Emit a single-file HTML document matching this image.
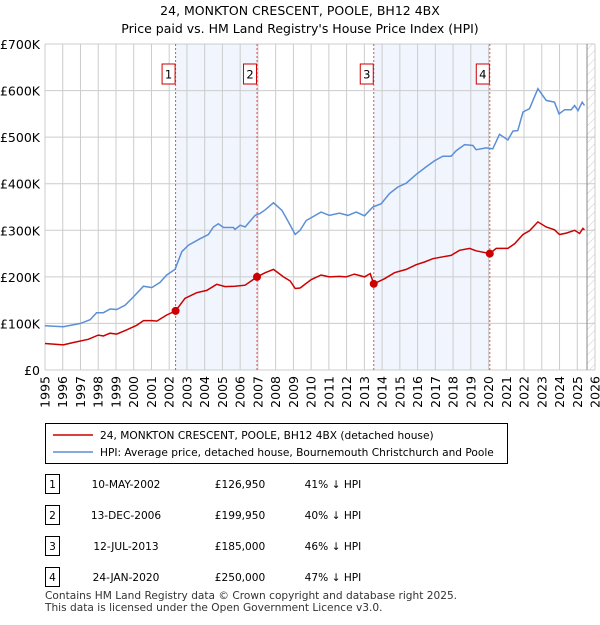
<!DOCTYPE html>
<html><head><meta charset="utf-8"><style>
body{margin:0;background:#fff;font-family:"Liberation Sans","DejaVu Sans",sans-serif;}
svg text{font-family:"DejaVu Sans","Liberation Sans",sans-serif;}
</style></head><body>
<svg id="c" width="600" height="620" viewBox="0 0 600 620" xmlns="http://www.w3.org/2000/svg">
<defs><pattern id="hatch" width="6" height="6" patternUnits="userSpaceOnUse" patternTransform="rotate(45)"><line x1="0" y1="0" x2="0" y2="6" stroke="#ccc" stroke-width="1"/></pattern></defs>
<text x="300" y="15" text-anchor="middle" font-size="12.5" fill="#000">24, MONKTON CRESCENT, POOLE, BH12 4BX</text>
<text x="300" y="33" text-anchor="middle" font-size="12.5" fill="#000">Price paid vs. HM Land Registry's House Price Index (HPI)</text>
<g id="plot"></g>
</svg>
<script>
const yTicks=[0,100,200,300,400,500,600,700];
const yTickLabels=["£0","£100K","£200K","£300K","£400K","£500K","£600K","£700K"];
const xYears=[1995,1996,1997,1998,1999,2000,2001,2002,2003,2004,2005,2006,2007,2008,2009,2010,2011,2012,2013,2014,2015,2016,2017,2018,2019,2020,2021,2022,2023,2024,2025,2026];
const saleDates=[2002.36,2006.95,2013.53,2020.07];
const salePrices=[126.95,199.95,185,250];
const saleLabels=["1","2","3","4"];
const hpiT=[1995.0,1996.03,1997.0,1997.54,1997.91,1998.29,1998.67,1999.04,1999.51,1999.98,2000.55,2001.02,2001.48,2001.86,2002.33,2002.71,2003.08,2003.74,2004.21,2004.49,2004.77,2005.06,2005.62,2005.71,2006.0,2006.28,2006.84,2007.12,2007.41,2007.88,2008.35,2008.72,2009.1,2009.38,2009.72,2010.56,2011.03,2011.6,2012.07,2012.54,2013.01,2013.48,2013.95,2014.42,2014.89,2015.36,2015.92,2016.48,2016.95,2017.42,2017.89,2018.18,2018.65,2019.12,2019.3,2019.87,2020.24,2020.62,2021.09,2021.37,2021.65,2021.94,2022.31,2022.78,2023.25,2023.72,2023.97,2024.29,2024.66,2024.85,2025.04,2025.28,2025.41];
const hpiV=[95,93,100,108,123,123,131,130,139,157,180,177,188,204,216,254,268,282,291,307,314,306,306,302,311,307,332,336,344,359,343,318,291,300,321,339,332,337,332,339,331,350,357,379,393,401,420,436,449,459,459,471,484,482,473,477,475,506,494,513,514,554,561,604,579,575,550,559,559,568,557,575,568];
const ppT=[1995.0,1996.03,1996.6,1997.44,1998.0,1998.29,1998.67,1999.04,1999.6,2000.17,2000.55,2001.02,2001.3,2001.86,2002.36,2002.89,2003.55,2004.12,2004.68,2005.15,2005.71,2006.28,2006.95,2007.41,2007.88,2008.44,2008.82,2009.1,2009.38,2010.0,2010.56,2011.03,2011.6,2011.97,2012.44,2013.01,2013.33,2013.53,2014.14,2014.7,2015.36,2015.92,2016.39,2016.86,2017.42,2017.89,2018.36,2018.93,2019.3,2020.07,2020.43,2021.09,2021.47,2021.94,2022.31,2022.78,2023.25,2023.72,2024.0,2024.38,2024.85,2025.13,2025.32,2025.41];
const ppV=[57,54,59,66,75,73,79,77,86,96,106,106,105,118,126.95,154,166,171,184,179,180,182,199.95,209,216,200,191,175,176,194,204,200,201,200,206,200,207,185,196,209,216,226,232,239,243,246,257,261,256,250,261,261,271,291,299,318,307,301,291,294,300,293,304,301];
const X0=45,X1=595,Y0=370,Y1=44;
const xs=y=>X0+(y-1995)/(2026-1995)*(X1-X0);
const ys=v=>Y0-v/700*(Y0-Y1);
const NS="http://www.w3.org/2000/svg";
const g=document.getElementById('plot');
function mk(tag,attrs,parent){const e=document.createElementNS(NS,tag);for(const k in attrs)e.setAttribute(k,attrs[k]);(parent||g).appendChild(e);return e;}
for(let i=0;i<saleDates.length;i+=2){
 const r=mk('rect',{x:xs(saleDates[i]),y:Y1,width:xs(saleDates[i+1])-xs(saleDates[i]),height:Y0-Y1,fill:'#eef3fc','fill-opacity':0.8});
 
 
}
const h=mk('rect',{x:xs(2025.55),y:Y1,width:X1-xs(2025.55),height:Y0-Y1,fill:'url(#hatch)'});


yTicks.forEach((t,i)=>{
 const l=mk('line',{x1:X0,x2:X1,y1:ys(t),y2:ys(t),stroke:'#cccccc','stroke-width':1});
 
 
 const tx=mk('text',{x:40,y:ys(t)+5,'text-anchor':'end','font-size':'12.5',fill:'#000'});
 tx.textContent=yTickLabels[i];
 
 
});
xYears.forEach(yr=>{
 const l=mk('line',{x1:xs(yr),x2:xs(yr),y1:Y1,y2:Y0,stroke:'#cccccc','stroke-width':1});
 
 
 const tx=mk('text',{x:0,y:0,'text-anchor':'end','font-size':'12.5',fill:'#000',transform:`translate(${xs(yr)+4.5},376) rotate(-90)`});
 tx.textContent=yr;
 
 
});
mk('line',{x1:xs(2025.55),x2:xs(2025.55),y1:Y1,y2:Y0,stroke:'#888','stroke-width':1});
saleDates.forEach((d,i)=>{
 const l=mk('line',{x1:xs(d),x2:xs(d),y1:Y1,y2:Y0,stroke:'#e05050','stroke-width':1,'stroke-dasharray':'2,2'});
 
 
 const b=mk('rect',{x:xs(d)-13.5,y:64,width:13,height:20,fill:'#fff',stroke:'#cc0000','stroke-width':1});
 
 
 const t=mk('text',{x:xs(d)-7,y:78.5,'text-anchor':'middle','font-size':'11.5',fill:'#000'});
 t.textContent=saleLabels[i];
 
 
});
let d='';for(let i=0;i<hpiT.length;i++)d+=(i?'L':'M')+xs(hpiT[i]).toFixed(1)+','+ys(hpiV[i]).toFixed(1);
const hp=mk('path',{d:d,fill:'none',stroke:'#5b8fd6','stroke-width':1.5});


d='';for(let i=0;i<ppT.length;i++)d+=(i?'L':'M')+xs(ppT[i]).toFixed(1)+','+ys(ppV[i]).toFixed(1);
const pp=mk('path',{d:d,fill:'none',stroke:'#cc0000','stroke-width':1.5});


saleDates.forEach((dd,i)=>{
 const c=mk('circle',{cx:xs(dd),cy:ys(salePrices[i]),r:4,fill:'#cc0000'});
 
 
});
const root=document.getElementById('c');
const lg=mk('g',{},root);


mk('rect',{x:45.5,y:423.5,width:462,height:40,fill:'#fff',stroke:'#000','stroke-width':1},lg);
mk('line',{x1:53,x2:93,y1:435,y2:435,stroke:'#cc0000','stroke-width':1.5},lg);
mk('line',{x1:53,x2:93,y1:452,y2:452,stroke:'#5b8fd6','stroke-width':1.5},lg);
let t=mk('text',{x:100,y:439,'font-size':'10.6',fill:'#000'},lg);t.textContent='24, MONKTON CRESCENT, POOLE, BH12 4BX (detached house)';


t=mk('text',{x:100,y:456,'font-size':'10.6',fill:'#000'},lg);t.textContent='HPI: Average price, detached house, Bournemouth Christchurch and Poole';


const dates=["10-MAY-2002","13-DEC-2006","12-JUL-2013","24-JAN-2020"];
const prices=["£126,950","£199,950","£185,000","£250,000"];
const pcts=["41% ↓ HPI","40% ↓ HPI","46% ↓ HPI","47% ↓ HPI"];
dates.forEach((dt,i)=>{
 const y=484+i*31;
 const row=mk('g',{},root);
 
 
 mk('rect',{x:45.5,y:y-9.5,width:14,height:19,fill:'#fff',stroke:'#000','stroke-width':1},row);
 let a=mk('text',{x:52.5,y:y+4,'text-anchor':'middle','font-size':'10.6'},row);a.textContent=saleLabels[i];
 a=mk('text',{x:126,y:y+4,'text-anchor':'middle','font-size':'10.6'},row);a.textContent=dt;
 a=mk('text',{x:240,y:y+4,'text-anchor':'middle','font-size':'10.6'},row);a.textContent=prices[i];
 a=mk('text',{x:333,y:y+4,'text-anchor':'middle','font-size':'10.6'},row);a.textContent=pcts[i];
});
t=mk('text',{x:45,y:599,'font-size':'10.6',fill:'#333'},root);t.textContent='Contains HM Land Registry data © Crown copyright and database right 2025.';


t=mk('text',{x:45,y:611,'font-size':'10.6',fill:'#333'},root);t.textContent='This data is licensed under the Open Government Licence v3.0.';


</script>
</body></html>
